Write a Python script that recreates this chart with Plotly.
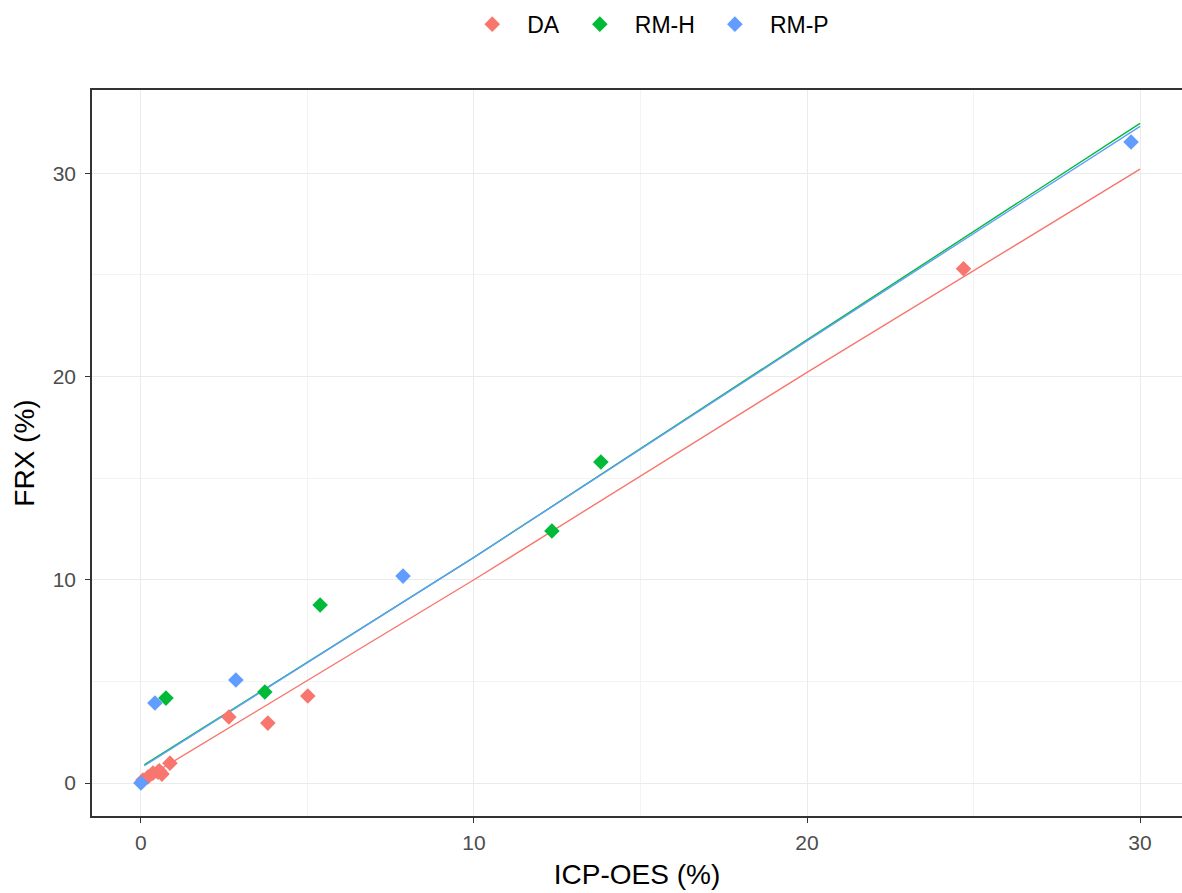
import plotly.graph_objects as go

# ---- data ----
da_x = [0.06, 0.21, 0.36, 0.51, 0.63, 0.55, 0.87, 2.64, 3.81, 5.01, 24.7]
da_y = [0.15, 0.30, 0.49, 0.54, 0.44, 0.60, 0.98, 3.25, 2.95, 4.28, 25.3]
rmh_x = [0.75, 3.72, 5.38, 12.34, 13.81]
rmh_y = [4.18, 4.48, 8.76, 12.40, 15.79]
rmp_x = [0.0, 0.42, 2.85, 7.87, 29.73]
rmp_y = [0.0, 3.94, 5.07, 10.18, 31.53]

fit_x = [0.1, 10, 20, 30]
fit_da = [0.2, 10.0, 20.2, 30.2]
fit_rmh = [0.9, 11.1, 21.8, 32.45]
fit_rmp = [0.85, 11.1, 21.75, 32.3]

x_ticks = [0, 10, 20, 30]
y_ticks = [0, 10, 20, 30]

colors = {"DA": "#F8766D", "RM-H": "#00BA38", "RM-P": "#619CFF"}
FONT = "Liberation Sans, Arial, sans-serif"

fig = go.Figure()

for name, fx, fy in [("DA", fit_x, fit_da), ("RM-H", fit_x, fit_rmh), ("RM-P", fit_x, fit_rmp)]:
    fig.add_trace(go.Scatter(x=fx, y=fy, mode="lines", line=dict(color=colors[name], width=1.4),
                             showlegend=False, hoverinfo="skip"))

for name, xs, ys in [("DA", da_x, da_y), ("RM-H", rmh_x, rmh_y), ("RM-P", rmp_x, rmp_y)]:
    fig.add_trace(go.Scatter(x=xs, y=ys, mode="markers", name=name,
                             marker=dict(symbol="diamond", size=12, color=colors[name])))

axis_common = dict(
    showgrid=True, gridcolor="#EBEBEB", gridwidth=1.2,
    zeroline=False, ticks="outside", ticklen=5, tickcolor="#333333", tickwidth=1.2,
    tickfont=dict(family=FONT, size=21, color="#4D4D4D"),
    showline=True, linecolor="#333333", linewidth=1.5,
    minor=dict(dtick=5, showgrid=True, gridcolor="#F3F3F3", gridwidth=0.8, ticks=""),
)

fig.update_xaxes(range=[-1.47, 31.26], tickvals=x_ticks, mirror=True, ticklabelstandoff=2,
                 title=dict(text="ICP-OES (%)", font=dict(family=FONT, size=28, color="black"), standoff=11),
                 **axis_common)
fig.update_yaxes(range=[-1.62, 34.09], tickvals=y_ticks, mirror=False, ticklabelstandoff=5,
                 title=dict(text="FRX (%)", font=dict(family=FONT, size=28, color="black"), standoff=10),
                 **axis_common)

fig.update_layout(
    width=1182, height=893,
    margin=dict(l=92, r=0, t=90, b=77),
    plot_bgcolor="white", paper_bgcolor="white",
    font=dict(family=FONT),
    legend=dict(orientation="h", x=0.508, xanchor="center", yref="container", y=0.997, yanchor="top",
                font=dict(family=FONT, size=23, color="black"), itemwidth=60),
)

fig.write_html("out.html")
